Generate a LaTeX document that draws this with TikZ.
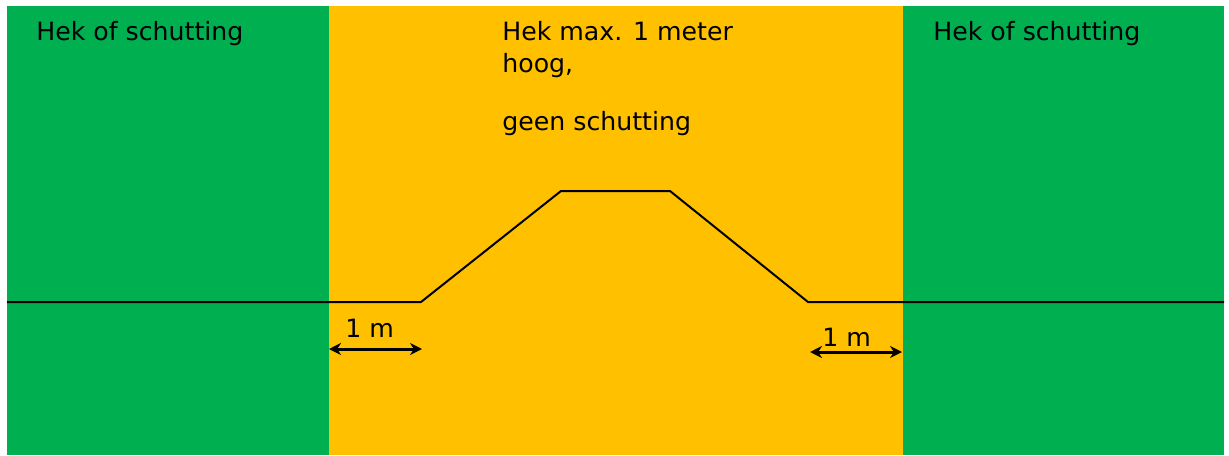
\documentclass[tikz,border=0pt]{standalone}
\usepackage{fontspec}
\setmainfont{DejaVu Sans}
\usetikzlibrary{arrows.meta}
\definecolor{zonegreen}{HTML}{00B050}
\definecolor{zoneorange}{HTML}{FFC000}

\begin{document}
\begin{tikzpicture}[x=0.5pt,y=-0.5pt,
  label/.style={anchor=base west,inner sep=0pt,font=\fontsize{12.6}{16}\selectfont},
  dim/.style={{Stealth[length=6pt,width=6pt]}-{Stealth[length=6pt,width=6pt]},line width=1.5pt}]
  \useasboundingbox (0,0) rectangle (1229,455);
  % zones
  \fill[zonegreen] (7,6) rectangle (329,455);
  \fill[zoneorange] (329,6) rectangle (903,455);
  \fill[zonegreen] (903,6) rectangle (1224,455);

  % profile
  \coordinate (P0) at (7,302);
  \coordinate (P1) at (421,302);
  \coordinate (P2) at (561,191);
  \coordinate (P3) at (670,191);
  \coordinate (P4) at (808,302);
  \coordinate (P5) at (1224,302);
  \draw[line width=1pt] (P0) -- (P1) -- (P2) -- (P3) -- (P4) -- (P5);

  % dimensions
  \coordinate (L1) at (329,349);
  \coordinate (L2) at (422,349);
  \coordinate (R1) at (810,352);
  \coordinate (R2) at (902,352);
  \draw[dim] (L1) -- (L2);
  \draw[dim] (R1) -- (R2);

  % texts
  \node[label] (leftzone) at (36,40) {Hek of schutting};
  \node[label] (rightzone) at (933,40) {Hek of schutting};
  \node[label] (maxline) at (502,40) {Hek max. 1 meter};
  \node[label] (hoog) at (502,72) {hoog,};
  \node[label] (geen) at (502,130) {geen schutting};
  \node[label] (leftm) at (345,337) {1 m};
  \node[label] (rightm) at (822,346) {1 m};
\end{tikzpicture}
\end{document}
